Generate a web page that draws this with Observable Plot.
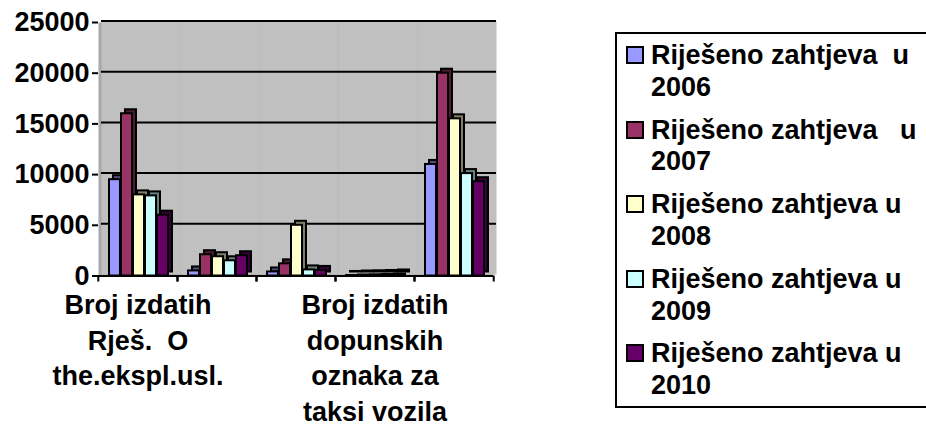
<!DOCTYPE html>
<html>
<head>
<meta charset="utf-8">
<script src="https://cdn.jsdelivr.net/npm/d3@7"></script>
<script src="https://cdn.jsdelivr.net/npm/@observablehq/plot@0.6"></script>
<style>
  html, body { margin: 0; padding: 0; background: #fff; overflow: hidden; width: 926px; height: 426px; }
  #wrap { position: relative; width: 926px; height: 426px; font-family: "Liberation Sans", Arial, sans-serif; font-weight: bold; }
  #chart { position: absolute; left: 0; top: 0; }
  #legend { position: absolute; left: 615px; top: 32px; width: 311px; height: 372px; border-top: 2px solid #000; border-bottom: 2px solid #000; border-left: 2px solid #000; box-sizing: border-box; height: 376px; }
  .entry { position: absolute; left: 0; }
  .sw { position: absolute; left: 9px; top: 6px; width: 14px; height: 14px; border: 2px solid #000; }
  .lbl { position: absolute; left: 34px; top: 0; font-size: 27px; line-height: 31.7px; white-space: pre; color: #000; }
</style>
</head>
<body>
<div id="wrap">
  <div id="chart"></div>
  <div id="legend"></div>
</div>
<script>
// ---- data ----
const categories = [
  "Broj izdatih Rješ. O the.ekspl.usl.",
  "Kategorija 2",
  "Kategorija 3",
  "Broj izdatih dopunskih oznaka za taksi vozila",
  "Kategorija 5"
];
const tickLabels = [
  "Broj izdatih\nRješ.  O\nthe.ekspl.usl.",
  "",
  "",
  "Broj izdatih\ndopunskih\noznaka za\ntaksi vozila",
  ""
];
const series = ["2006", "2007", "2008", "2009", "2010"];
const legendLabels = [
  "Riješeno zahtjeva  u\n2006",
  "Riješeno zahtjeva   u\n2007",
  "Riješeno zahtjeva u\n2008",
  "Riješeno zahtjeva u\n2009",
  "Riješeno zahtjeva u\n2010"
];
const values2006 = [9500, 500, 400, 50, 11000];
const values2007 = [16000, 2100, 1200, 100, 20000];
const values2008 = [8000, 1900, 5000, 120, 15500];
const values2009 = [7900, 1500, 600, 150, 10100];
const values2010 = [6000, 2000, 550, 200, 9300];
const yTicks = [0, 5000, 10000, 15000, 20000, 25000];

// ---- styles ----
const frontColors = ["#9999ff", "#993366", "#ffffcc", "#ccffff", "#660066"];
const sideColors  = ["#4d4d80", "#4d1a33", "#80806a", "#668080", "#330033"];

const allValues = [values2006, values2007, values2008, values2009, values2010];
const data = [];
categories.forEach((c, ci) => {
  series.forEach((s, si) => {
    data.push({cat: c, series: s, value: allValues[si][ci], front: frontColors[si], side: sideColors[si]});
  });
});

const W = 926, H = 426;
const mL = 97, mR = 432, mT = 22, mB = 150.5;
const halfBand = (W - mL - mR) / categories.length / 2;

const chart = Plot.plot({
  width: W,
  height: H,
  marginLeft: mL,
  marginRight: mR,
  marginTop: mT,
  marginBottom: mB,
  style: {fontFamily: "'Liberation Sans', Arial, sans-serif", fontWeight: "bold", fontSize: "27px", background: "transparent", overflow: "visible", color: "#000"},
  fx: {domain: categories, padding: 0, axis: null},
  x: {domain: series, paddingInner: 0.08, paddingOuter: 0, insetLeft: 11, insetRight: 8, axis: null},
  y: {domain: [0, 25000], axis: null},
  marks: [
    Plot.frame({fill: "#a8a8a8", stroke: null}),
    Plot.frame({fill: "#c0c0c0", stroke: null, dx: 3, dy: -1.5}),
    Plot.ruleY(yTicks.slice(1), {stroke: "#000", strokeWidth: 2, dx: 3, dy: -1.5}),
    Plot.barY(data, {fx: "cat", x: "series", y: "value", fill: d => d.side, stroke: "#000", strokeWidth: 2, dx: 4, dy: -4}),
    Plot.barY(data, {fx: "cat", x: "series", y: "value", fill: d => d.front, stroke: "#000", strokeWidth: 2}),
    Plot.ruleY([0], {stroke: "#000", strokeWidth: 2}),
    Plot.axisY({ticks: yTicks, tickFormat: d => String(d), tickSize: 6, tickPadding: 3, line: true, stroke: "#000", strokeWidth: 2, label: null, fontSize: 27}),
    Plot.axisFx({anchor: "bottom", tickSize: 6, tickFormat: () => "", dx: -halfBand, label: null, strokeWidth: 2}),
    Plot.axisFx({anchor: "bottom", tickSize: 6, tickFormat: () => "", dx: halfBand, label: null, strokeWidth: 2}),
    Plot.axisFx({anchor: "bottom", tickSize: 0, tickPadding: 13, tickFormat: d => tickLabels[categories.indexOf(d)], lineAnchor: "top", lineHeight: 1.315, label: null, fontSize: 27})
  ]
});
document.getElementById("chart").appendChild(chart);

// ---- legend ----
const legend = document.getElementById("legend");
series.forEach((s, i) => {
  const e = document.createElement("div");
  e.className = "entry";
  e.style.top = (6 + i * 74.6) + "px";
  const sw = document.createElement("div");
  sw.className = "sw";
  sw.style.background = frontColors[i];
  const t = document.createElement("div");
  t.className = "lbl";
  t.textContent = legendLabels[i];
  e.appendChild(sw);
  e.appendChild(t);
  legend.appendChild(e);
});
</script>
</body>
</html>
